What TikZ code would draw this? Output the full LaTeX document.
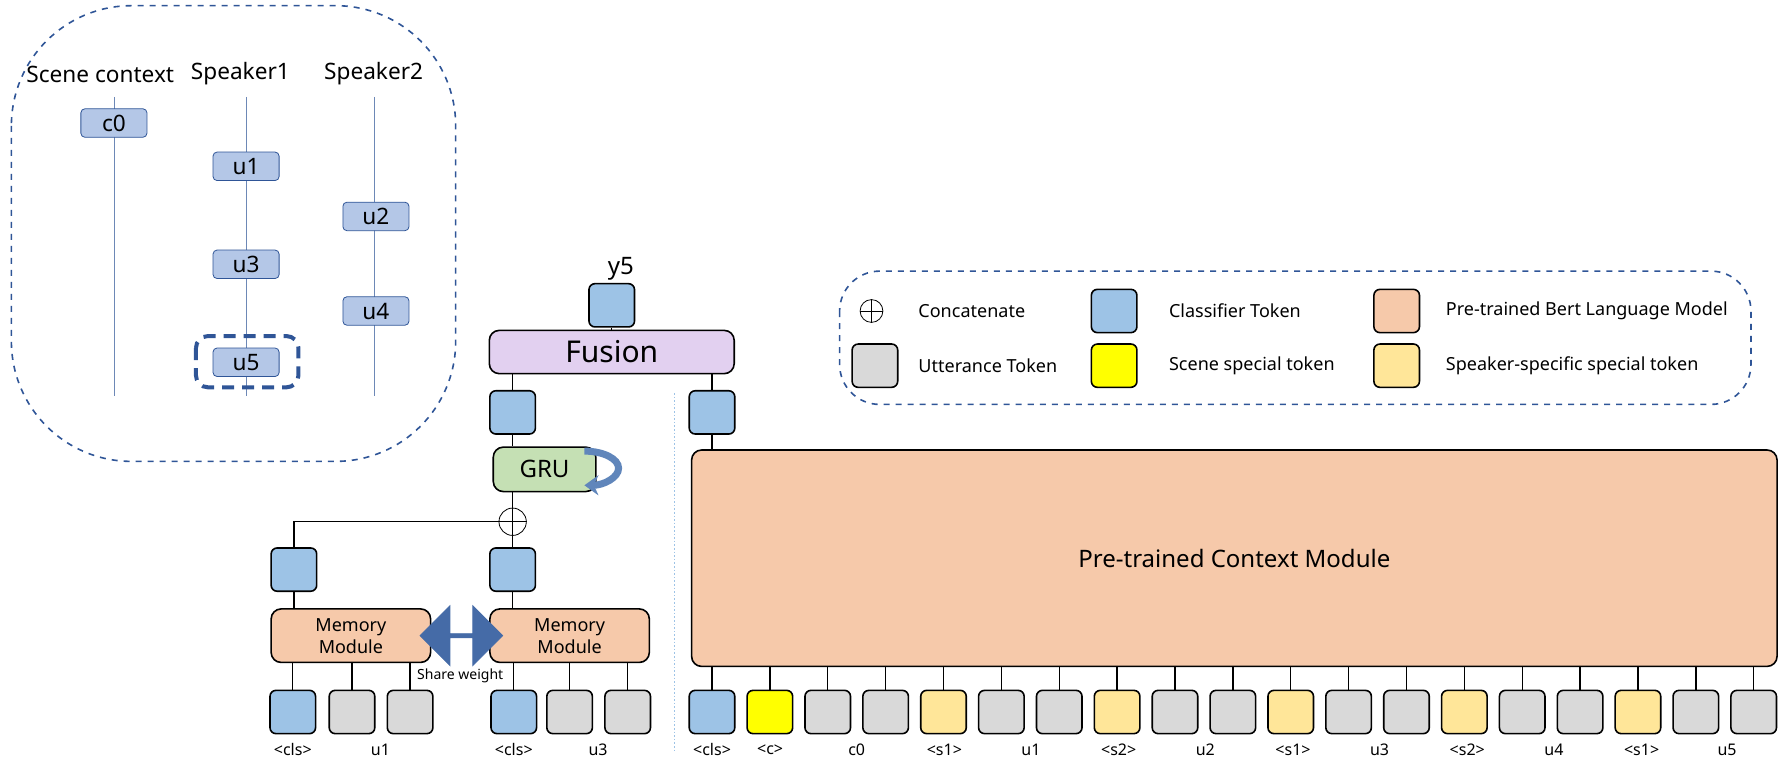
\documentclass[tikz,border=0pt]{standalone}
\usepackage{fontspec}
\setmainfont{Noto Sans}
\usepackage{xcolor}
\usetikzlibrary{arrows.meta,shapes.arrows}
\definecolor{tokblue}{HTML}{9DC3E6}
\definecolor{tokgray}{HTML}{D9D9D9}
\definecolor{tokyel}{HTML}{FFFF00}
\definecolor{tokspk}{HTML}{FFE699}
\definecolor{bertor}{HTML}{F6C9AA}
\definecolor{fusepl}{HTML}{E2D0F0}
\definecolor{grugr}{HTML}{C5E0B4}
\definecolor{uttbl}{HTML}{B4C7E7}
\definecolor{darkbl}{HTML}{2F5597}
\tikzset{
    tok/.style={draw, line width=0.8pt, rounded corners=3pt, minimum width=0.8cm, minimum height=0.76cm, inner sep=0pt},
    utt/.style={draw=darkbl, fill=uttbl, rounded corners=2pt, minimum width=1.16cm, minimum height=0.5cm, inner sep=0pt, font=\fontsize{11.3}{13}\selectfont},
    module/.style={draw, line width=0.8pt, rounded corners=5pt, inner sep=0pt, align=center},
    lab/.style={font=\small},
    toklab/.style={font=\footnotesize},
    head/.style={font=\fontsize{11.3}{13}\selectfont},
    conn/.style={line width=0.7pt}
}
\begin{document}
\begin{tikzpicture}[x=0.02cm, y=-0.02cm]
        \useasboundingbox (0,0) rectangle (1566,668);

        % Scene panel
        \draw[darkbl, dashed, line width=0.8pt, rounded corners=60] (10,5) rectangle (400,405);
        \node[head] (hsc) at (88,65) {Scene context};
        \node[head] (hs1) at (211,65) {Speaker1};
        \node[head] (hs2) at (328,65) {Speaker2};
        \coordinate (l0a) at (100,85); \coordinate (l0b) at (100,348);
        \coordinate (l1a) at (216,85); \coordinate (l1b) at (216,348);
        \coordinate (l2a) at (329,85); \coordinate (l2b) at (329,348);
        \draw[darkbl!70, thin] (l0a) -- (l0b);
        \draw[darkbl!70, thin] (l1a) -- (l1b);
        \draw[darkbl!70, thin] (l2a) -- (l2b);
        \node[utt] (c0) at (100,108) {c0};
        \node[utt] (u1) at (216,146) {u1};
        \node[utt] (u3) at (216,232) {u3};
        \node[utt] (u5) at (216,318) {u5};
        \node[utt] (u2) at (330,190) {u2};
        \node[utt] (u4) at (330,273) {u4};
        \draw[darkbl, dash pattern=on 6pt off 4pt, line width=2pt, rounded corners=6pt] (172,295) rectangle (262,340);

        % Legend
        \draw[darkbl, dashed, line width=0.8pt, rounded corners=20] (737,238) rectangle (1537,355);
        \node[circle, draw, inner sep=0pt, minimum size=0.4cm] (lgcat) at (765,273) {};
        \draw (lgcat.north) -- (lgcat.south) (lgcat.west) -- (lgcat.east);
        \node[lab, anchor=west] (lgcatt) at (800,273) {Concatenate};
        \node[tok, fill=tokblue] (lgcls) at (978,273) {};
        \node[lab, anchor=west] (lgclst) at (1020,273) {Classifier Token};
        \node[tok, fill=bertor] (lgbert) at (1226,273) {};
        \node[lab, anchor=west] (lgbertt) at (1263,273) {Pre-trained Bert Language Model};
        \node[tok, fill=tokgray] (lgutt) at (768,321) {};
        \node[lab, anchor=west] (lguttt) at (800,321) {Utterance Token};
        \node[tok, fill=tokyel] (lgsc) at (978,321) {};
        \node[lab, anchor=west] (lgsct) at (1020,321) {Scene special token};
        \node[tok, fill=tokspk] (lgspk) at (1226,321) {};
        \node[lab, anchor=west] (lgspkt) at (1263,321) {Speaker-specific special token};

        % Context module
        \node[module, fill=bertor, minimum width=19.06cm, minimum height=3.8cm, font=\large] (ctx) at (1083.5,490) {Pre-trained Context Module};
        \foreach \i/\c in {0/tokblue,1/tokyel,2/tokgray,3/tokgray,4/tokspk,5/tokgray,6/tokgray,7/tokspk,8/tokgray,9/tokgray,10/tokspk,11/tokgray,12/tokgray,13/tokspk,14/tokgray,15/tokgray,16/tokspk,17/tokgray,18/tokgray} {
            \node[tok, fill=\c] (ct\i) at ({625+50.8*\i},625) {};
            \draw[conn] (ct\i) -- (ct\i |- ctx.south);
        }
        \foreach \t/\x in {{<cls>}/625,{<c>}/676,c0/752,{<s1>}/829,u1/905,{<s2>}/982,u2/1058,{<s1>}/1135,u3/1211,{<s2>}/1288,u4/1364,{<s1>}/1441,u5/1516}
            \node[toklab] at (\x,658) {\t};

        % Memory branch
        \foreach \n/\x/\c in {ma/257/tokblue,mb/309/tokgray,mc/360/tokgray,md/451/tokblue,me/500/tokgray,mf/551/tokgray}
            \node[tok, fill=\c] (\n) at (\x,625) {};
        \node[toklab] at (257,658) {<cls>};
        \node[toklab] at (334,658) {u1};
        \node[toklab] at (451,658) {<cls>};
        \node[toklab] at (525,658) {u3};
        \node[module, fill=bertor, minimum width=2.8cm, minimum height=0.94cm, font=\small] (mem1) at (308,558) {Memory\\Module};
        \node[module, fill=bertor, minimum width=2.8cm, minimum height=0.94cm, font=\small] (mem2) at (500,558) {Memory\\Module};
        \foreach \n in {ma,mb,mc} \draw[conn] (\n) -- (\n |- mem1.south);
        \foreach \n in {md,me,mf} \draw[conn] (\n) -- (\n |- mem2.south);
        \node[double arrow, fill=darkbl!80!tokblue, draw=darkbl!80!tokblue, minimum width=1.05cm, double arrow head extend=0.1cm, minimum height=1.45cm, inner sep=0pt] (share) at (405,558) {};
        \node[font=\scriptsize] (sharet) at (404,593) {Share weight};

        \node[tok, fill=tokblue] (hm1) at (258,500) {};
        \node[tok, fill=tokblue] (hm2) at (450,500) {};
        \draw[conn] (mem1.north -| hm1) -- (hm1);
        \draw[conn] (mem2.north -| hm2) -- (hm2);
        \node[circle, draw, inner sep=0pt, minimum size=0.48cm] (cat) at (450,458) {};
        \draw (cat.north) -- (cat.south) (cat.west) -- (cat.east);
        \draw[conn] (hm2) -- (cat);
        \draw[conn] (hm1) |- (cat);
        \node[module, fill=grugr, minimum width=1.8cm, minimum height=0.78cm, font=\large] (gru) at (478,412) {GRU};
        \draw[conn] (cat) -- (cat |- gru.south);
        \draw[-{Stealth[length=7pt,width=10pt]}, line width=3.5pt, draw=darkbl!55!tokblue] (513,396) arc (-90:90:30 and 15);

        % Fusion
        \node[tok, fill=tokblue] (hg) at (450,362) {};
        \draw[conn] (hg) -- (hg |- gru.north);
        \node[tok, fill=tokblue] (hc) at (625,362) {};
        \draw[conn] (hc) -- (hc |- ctx.north);
        \node[module, fill=fusepl, minimum width=4.3cm, minimum height=0.76cm, font=\fontsize{15}{18}\selectfont] (fus) at (537,309) {Fusion};
        \draw[conn] (hg) -- (hg |- fus.south);
        \draw[conn] (hc) -- (hc |- fus.south);
        \node[tok, fill=tokblue] (y) at (537,268) {};
        \draw[conn] (fus) -- (y);
        \node[font=\large] (yl) at (545,236) {y5};

        % separator
        \draw[tokblue, densely dotted, line width=0.8pt] (592,345) -- (592,660);
\end{tikzpicture}
\end{document}
